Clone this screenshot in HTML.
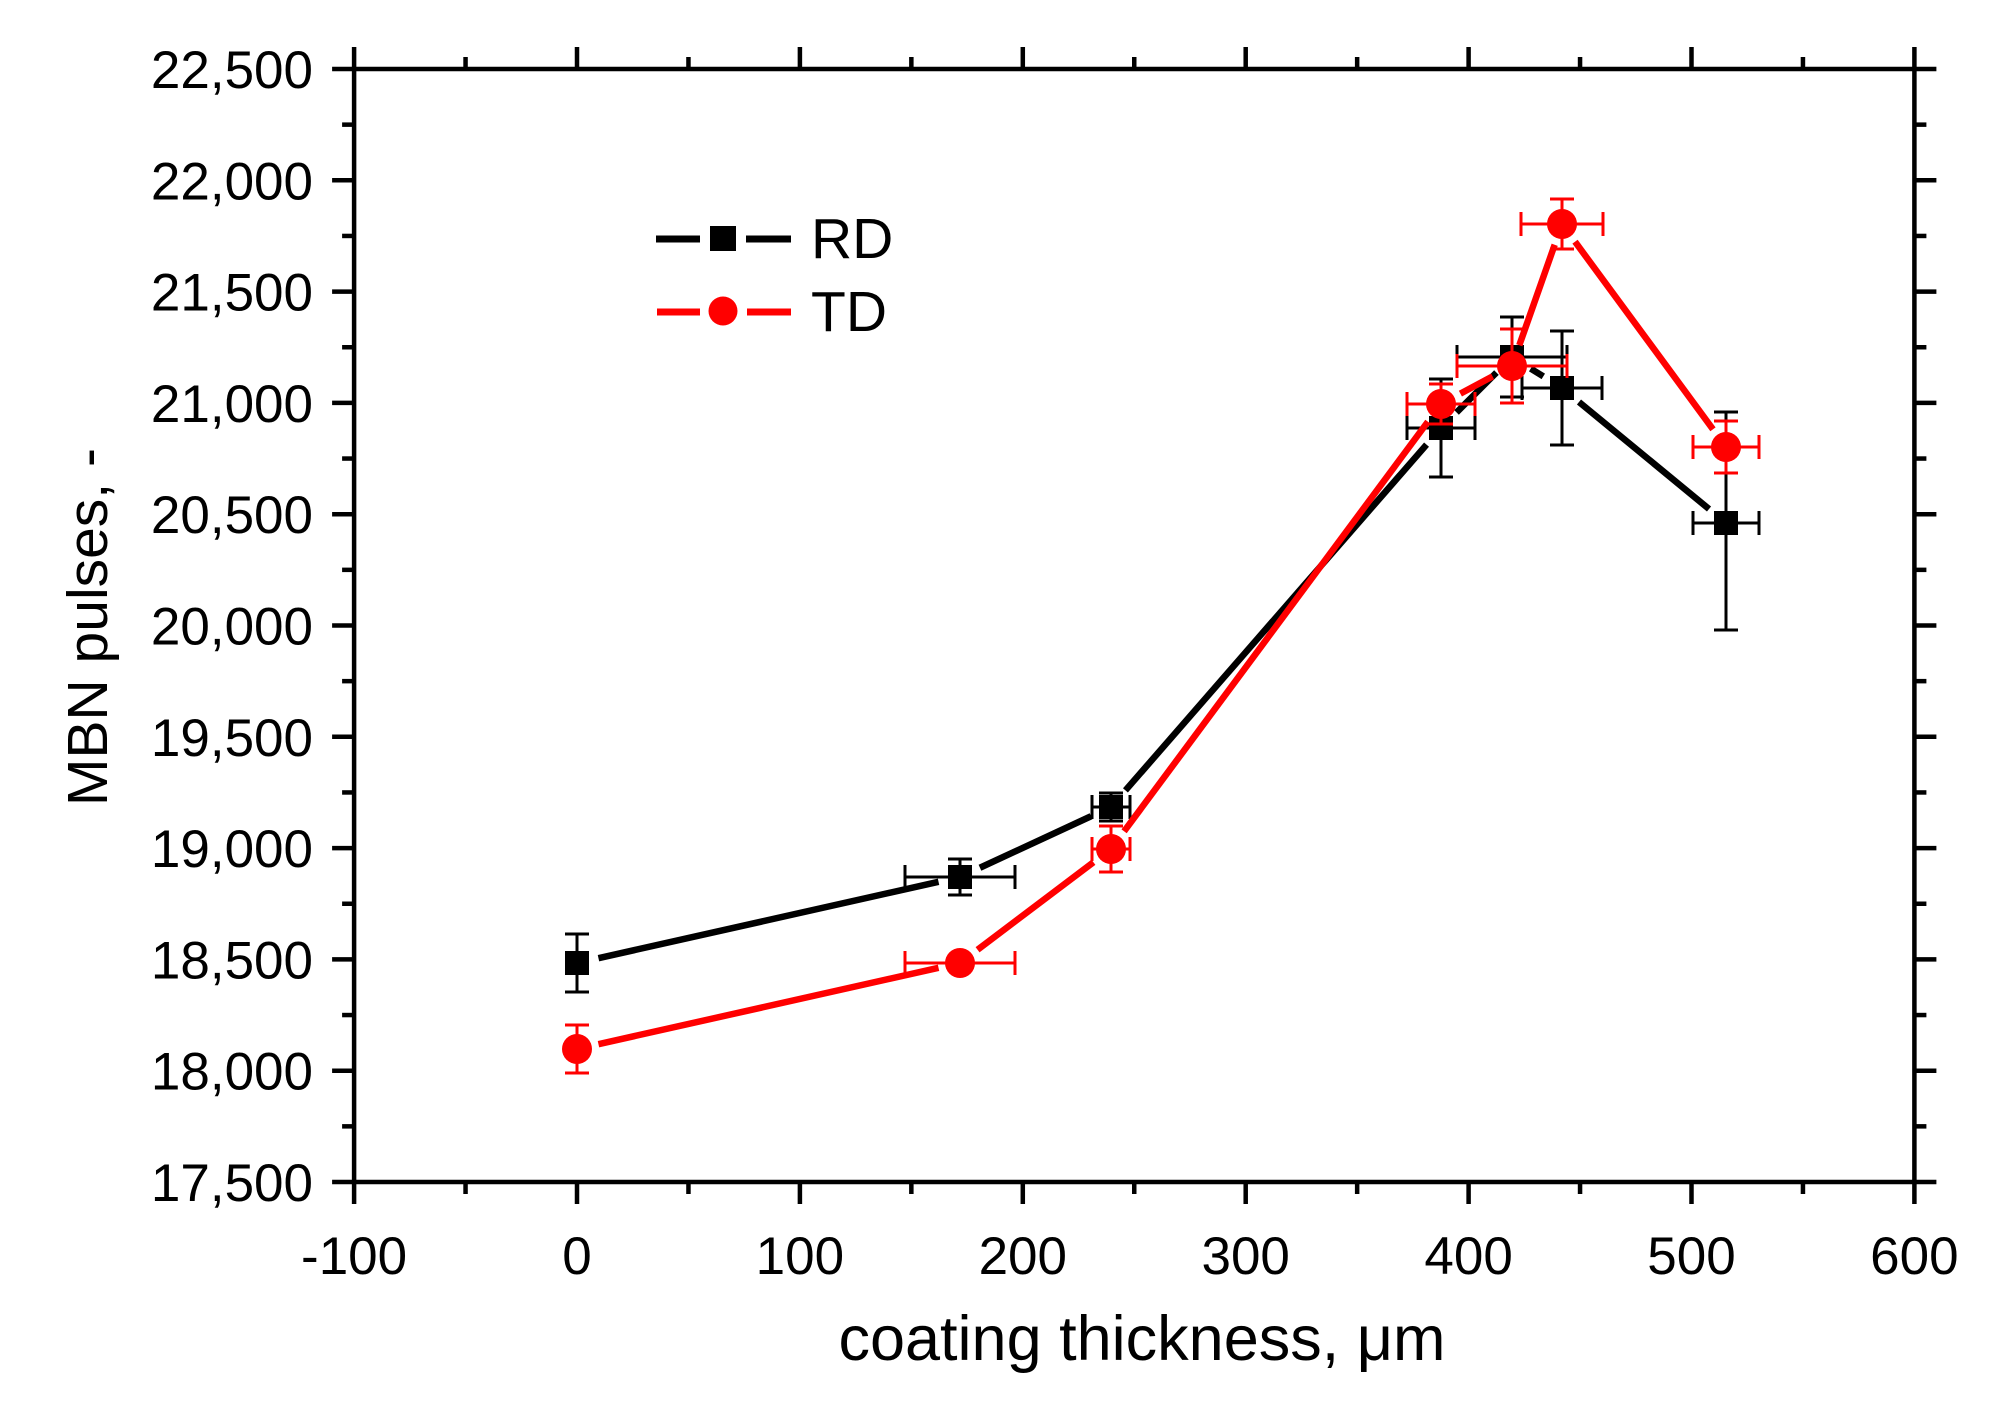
<!DOCTYPE html>
<html><head><meta charset="utf-8"><style>
html,body{margin:0;padding:0;background:#fff;}
svg{display:block;}
text{font-family:"Liberation Sans",Arial,sans-serif;fill:#000;}
</style></head><body>
<svg id="s" width="1995" height="1401" xmlns="http://www.w3.org/2000/svg"></svg>
<script>
var s=document.getElementById('s');var NS='http://www.w3.org/2000/svg';
function el(t,a,txt){var e=document.createElementNS(NS,t);for(var k in a)e.setAttribute(k,a[k]);if(txt!==undefined)e.textContent=txt;s.appendChild(e);return e;}
function X(v){return 577+2.229*v;}
function Y(v){return 1182-(v-17500)*0.2226;}
var L=X(-100),R=X(600),T=69,B=1182;
for(var v=-100;v<=600;v+=50){var x=X(v),maj=(v%100===0),len=maj?22:12;
 el('line',{x1:x,y1:B,x2:x,y2:B+len,stroke:'#000','stroke-width':4.5});
 el('line',{x1:x,y1:T,x2:x,y2:T-len,stroke:'#000','stroke-width':4.5});
 if(maj)el('text',{x:x,y:1274,'font-size':53,'text-anchor':'middle'},String(v));}
for(var v=17500;v<=22500;v+=250){var y=Y(v),maj=(v%500===0),len=maj?22:12;
 el('line',{x1:L,y1:y,x2:L-len,y2:y,stroke:'#000','stroke-width':4.5});
 el('line',{x1:R,y1:y,x2:R+len,y2:y,stroke:'#000','stroke-width':4.5});
 if(maj){var st=String(v);st=st.slice(0,2)+','+st.slice(2);el('text',{x:313,y:y+19,'font-size':53,'text-anchor':'end'},st);}}
el('rect',{x:L,y:T,width:R-L,height:B-T,fill:'none',stroke:'#000','stroke-width':4.5});
el('text',{x:1142,y:1360,'font-size':63,'text-anchor':'middle'},'coating thickness, \u03bcm');
el('text',{x:0,y:0,'font-size':57,'text-anchor':'middle',transform:'translate(107,627) rotate(-90)'},'MBN pulses, -');
var RD=[[577,963,0,29,29],[960,877,55,18,18],[1111,807,19,14,14],[1441,428,34,49,49],[1512,357,55,40,40],[1562,388,40,57,57],[1726,523,33,111,107]];
var TD=[[577,1049,0,24,24],[960,963,55,0,0],[1111,849,19,23,23],[1441,404,34,20,20],[1512,366,55,37,37],[1562,224,41,25,25],[1726,447,33,26,26]];
function series(d,c,sq){
 for(var i=0;i<d.length-1;i++){var a=d[i],b=d[i+1],dx=b[0]-a[0],dy=b[1]-a[1],l=Math.hypot(dx,dy),g=22;
  el('line',{x1:a[0]+dx*g/l,y1:a[1]+dy*g/l,x2:b[0]-dx*g/l,y2:b[1]-dy*g/l,stroke:c,'stroke-width':6.5});}
 d.forEach(function(p){var x=p[0],y=p[1];
  if(p[2]>0){el('line',{x1:x-p[2],y1:y,x2:x+p[2],y2:y,stroke:c,'stroke-width':3});
   el('line',{x1:x-p[2],y1:y-12,x2:x-p[2],y2:y+12,stroke:c,'stroke-width':3});
   el('line',{x1:x+p[2],y1:y-12,x2:x+p[2],y2:y+12,stroke:c,'stroke-width':3});}
  if(p[3]>0){el('line',{x1:x,y1:y-p[3],x2:x,y2:y+p[4],stroke:c,'stroke-width':3});
   el('line',{x1:x-12,y1:y-p[3],x2:x+12,y2:y-p[3],stroke:c,'stroke-width':3});
   el('line',{x1:x-12,y1:y+p[4],x2:x+12,y2:y+p[4],stroke:c,'stroke-width':3});}
  if(sq)el('rect',{x:x-12,y:y-12,width:24,height:24,fill:c});else el('circle',{cx:x,cy:y,r:15,fill:c});});}
series(RD,'#000',true);series(TD,'#ff0000',false);
el('line',{x1:656,y1:239,x2:700,y2:239,stroke:'#000','stroke-width':7});
el('line',{x1:746,y1:239,x2:791,y2:239,stroke:'#000','stroke-width':7});
el('rect',{x:710,y:226,width:26,height:25,fill:'#000'});
el('text',{x:811,y:258,'font-size':57},'RD');
el('line',{x1:657,y1:312,x2:700,y2:312,stroke:'#ff0000','stroke-width':7});
el('line',{x1:747,y1:312,x2:791,y2:312,stroke:'#ff0000','stroke-width':7});
el('circle',{cx:723,cy:311,r:14.5,fill:'#ff0000'});
el('text',{x:811,y:331,'font-size':57},'TD');
</script>
</body></html>
